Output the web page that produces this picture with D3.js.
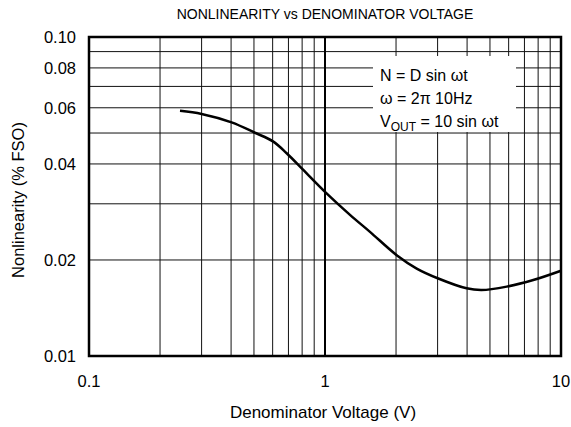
<!DOCTYPE html>
<html>
<head>
<meta charset="utf-8">
<script src="https://cdn.jsdelivr.net/npm/d3@7"></script>
<style>
  body { margin: 0; background: #fff; }
  text { font-family: "Liberation Sans", Arial, sans-serif; fill: #000; }
</style>
</head>
<body>
<div id="vis"></div>
<script>
// curve
var voltage = [0.243, 0.300, 0.402, 0.505, 0.604, 0.688, 0.809, 1.0, 1.276, 1.551, 2.013, 2.447, 3.02, 3.98, 4.61, 5.89, 7.63, 10.0];
var nonlin  = [0.0587, 0.0574, 0.0540, 0.0501, 0.0470, 0.0432, 0.0383, 0.0327, 0.0277, 0.0245, 0.0207, 0.0188, 0.0175, 0.0163, 0.0161, 0.0165, 0.0173, 0.0185];
var xTicks = [0.1, 1, 10];
var xTickLabels = ["0.1", "1", "10"];
var yTicks = [0.01, 0.02, 0.04, 0.06, 0.08, 0.1];
var yTickLabels = ["0.01", "0.02", "0.04", "0.06", "0.08", "0.10"];
var xGrid = [0.2, 0.3, 0.4, 0.5, 0.6, 0.7, 0.8, 0.9, 2, 3, 4, 5, 6, 7, 8, 9];
var yGrid = [0.02, 0.03, 0.04, 0.05, 0.06, 0.07, 0.08, 0.09];
var legendLines = ["N = D sin ωt", "ω = 2π 10Hz", "VOUT"];

var width = 571, height = 427;
var margin = { top: 37, right: 10, bottom: 71, left: 89 };
var w = width - margin.left - margin.right,
  h = height - margin.top - margin.bottom;

var svg = d3.select("#vis").append("svg")
  .attr("width", width)
  .attr("height", height);

var x = d3.scaleLog().domain([0.1, 10]).range([margin.left, margin.left + w]);
var y = d3.scaleLog().domain([0.01, 0.1]).range([margin.top + h, margin.top]);

////////// grid //////////
var grid = svg.append("g").attr("stroke", "#111").attr("stroke-width", 1);
grid.selectAll("line.v").data(xGrid).enter().append("line")
  .attr("x1", x).attr("x2", x)
  .attr("y1", y(0.01)).attr("y2", y(0.1));
grid.selectAll("line.h").data(yGrid).enter().append("line")
  .attr("y1", y).attr("y2", y)
  .attr("x1", x(0.1)).attr("x2", x(10));

// heavy line at 1 V
svg.append("line")
  .attr("x1", x(1)).attr("x2", x(1))
  .attr("y1", y(0.01)).attr("y2", y(0.1))
  .attr("stroke", "#000").attr("stroke-width", 2);

////////// legend box //////////
svg.append("rect")
  .attr("x", 373).attr("y", 56)
  .attr("width", 143).attr("height", 76)
  .attr("fill", "#fff");

var leg = svg.append("g").attr("font-size", 16);
leg.append("text").attr("x", 380).attr("y", 81).text(legendLines[0]);
leg.append("text").attr("x", 380).attr("y", 104).text(legendLines[1]);
var vt = leg.append("text").attr("x", 380).attr("y", 127);
vt.append("tspan").text("V");
vt.append("tspan").attr("font-size", 12).attr("dy", 4).text("OUT");
vt.append("tspan").attr("dy", -4).text(" = 10 sin ωt");

////////// curve //////////
var pts = voltage.map(function (v, i) { return [v, nonlin[i]]; });
svg.append("path")
  .datum(pts)
  .attr("fill", "none")
  .attr("stroke", "#000")
  .attr("stroke-width", 2.5)
  .attr("d", d3.line()
    .x(function (d) { return x(d[0]); })
    .y(function (d) { return y(d[1]); })
    .curve(d3.curveCatmullRom));

////////// frame //////////
svg.append("rect")
  .attr("x", x(0.1)).attr("y", y(0.1))
  .attr("width", x(10) - x(0.1)).attr("height", y(0.01) - y(0.1))
  .attr("fill", "none").attr("stroke", "#000").attr("stroke-width", 2.5);

////////// axes labels //////////
svg.append("g").attr("font-size", 16.5).attr("text-anchor", "middle")
  .selectAll("text").data(xTicks).enter().append("text")
  .attr("x", x).attr("y", 387)
  .text(function (d, i) { return xTickLabels[i]; });

svg.append("g").attr("font-size", 16.5).attr("text-anchor", "end")
  .selectAll("text").data(yTicks).enter().append("text")
  .attr("x", 76).attr("y", function (d) { return y(d) + 6; })
  .text(function (d, i) { return yTickLabels[i]; });

svg.append("text")
  .attr("x", 325).attr("y", 19)
  .attr("text-anchor", "middle").attr("font-size", 14)
  .text("NONLINEARITY vs DENOMINATOR VOLTAGE");

svg.append("text")
  .attr("x", 323).attr("y", 418)
  .attr("text-anchor", "middle").attr("font-size", 17)
  .text("Denominator Voltage (V)");

svg.append("text")
  .attr("transform", "translate(24,200) rotate(-90)")
  .attr("text-anchor", "middle").attr("font-size", 16.5)
  .text("Nonlinearity (% FSO)");
</script>
</body>
</html>
